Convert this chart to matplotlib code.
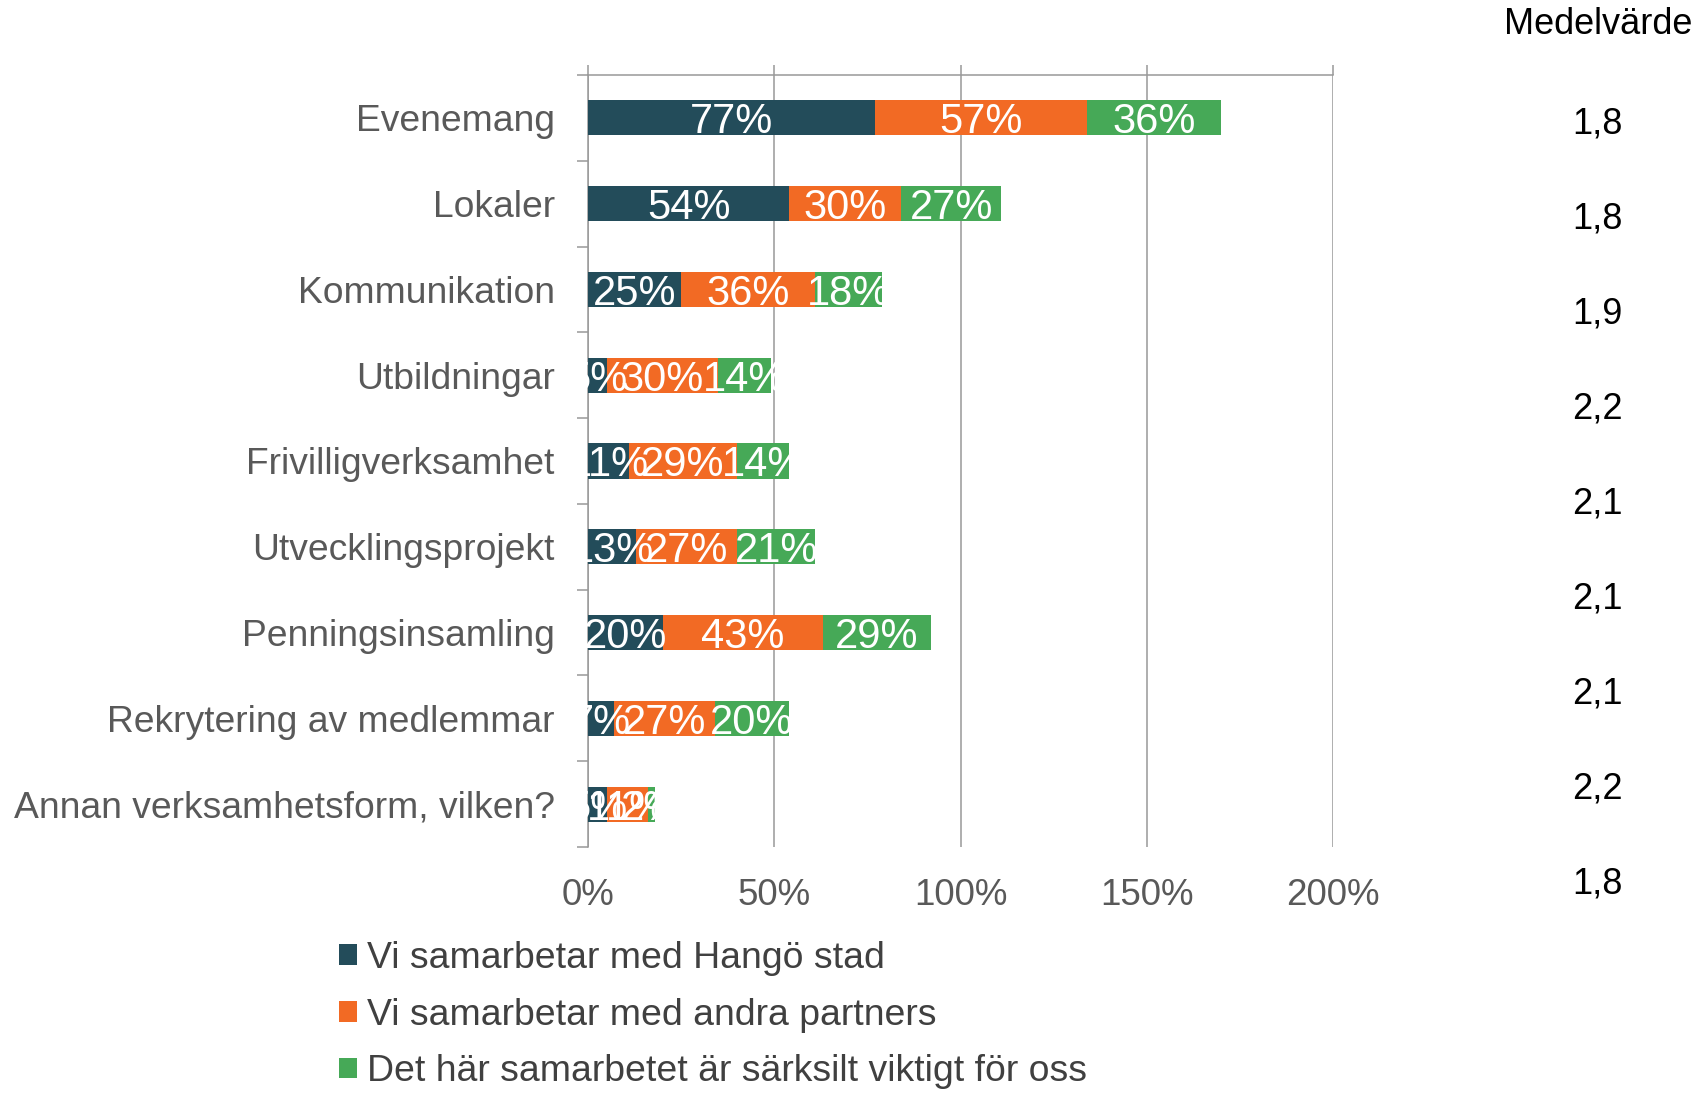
import matplotlib
matplotlib.use("Agg")
import matplotlib.pyplot as plt
import numpy as np
from matplotlib.patches import Patch
from matplotlib.ticker import FixedLocator, PercentFormatter

plt.rcParams['font.family'] = ['Liberation Sans', 'DejaVu Sans']

categories = ["Evenemang", "Lokaler", "Kommunikation", "Utbildningar",
              "Frivilligverksamhet", "Utvecklingsprojekt", "Penningsinsamling",
              "Rekrytering av medlemmar", "Annan verksamhetsform, vilken?"]
hango = [77, 54, 25, 5, 11, 13, 20, 7, 5]
andra = [57, 30, 36, 30, 29, 27, 43, 27, 11]
viktigt = [36, 27, 18, 14, 14, 21, 29, 20, 2]
series_names = ["Vi samarbetar med Hangö stad",
                "Vi samarbetar med andra partners",
                "Det här samarbetet är särksilt viktigt för oss"]
colors = ["#234C5A", "#F26A24", "#46A957"]
medel_header = "Medelvärde"
medelvarde = ["1,8", "1,8", "1,9", "2,2", "2,1", "2,1", "2,1", "2,2", "1,8"]
xticks = [0, 50, 100, 150, 200]

W, H = 1703, 1093
fig = plt.figure(figsize=(W / 100, H / 100), dpi=100)
ax = fig.add_axes([588 / W, 1 - 847 / H, (1333 - 588) / W, (847 - 75) / H])

y = np.arange(len(categories))
left = np.zeros(len(categories))
for vals, col in zip([hango, andra, viktigt], colors):
    vals = np.array(vals, dtype=float)
    bars = ax.barh(y, vals, left=left, height=0.41, color=col, linewidth=0, zorder=3)
    for b, v in zip(bars, vals):
        ax.text(b.get_x() + b.get_width() / 2, b.get_y() + b.get_height() / 2,
                f"{int(v)}%", ha="center", va="center_baseline", color="white",
                fontsize=30, zorder=4)
    left += vals

grid_col = "#999999"
ax.set_xlim(0, 200)
ax.set_ylim(len(categories) - 0.5, -0.5)
ax.xaxis.set_major_locator(FixedLocator(xticks))
ax.xaxis.set_major_formatter(PercentFormatter(decimals=0))
ax.grid(axis="x", color=grid_col, linewidth=1.1, zorder=0)
ax.set_axisbelow(True)

for s in ["right", "bottom"]:
    ax.spines[s].set_visible(False)
for s in ["left", "top"]:
    ax.spines[s].set_color(grid_col)
    ax.spines[s].set_linewidth(1.1)

ax.tick_params(axis="x", which="major", top=True, bottom=False, labeltop=False,
               labelbottom=True, direction="out", length=7.5, width=1.1,
               color=grid_col, labelsize=26.5, labelcolor="#595959", pad=14.5)
ax.set_yticks(y)
ax.set_yticklabels(categories)
ax.yaxis.set_minor_locator(FixedLocator(np.arange(-0.5, len(categories), 1.0)))
ax.tick_params(axis="y", which="major", length=0, labelsize=26.8,
               labelcolor="#595959", pad=24)
ax.tick_params(axis="y", which="minor", length=8, width=1.1, color=grid_col,
               direction="out")

# Medelvärde column
fig.text(1692 / W, 1 - 24 / H, medel_header, ha="right", va="center",
         fontsize=26, color="black")
ys = np.linspace(120.5, 879.6, len(medelvarde))
for yy, m in zip(ys, medelvarde):
    fig.text(1597 / W, 1 - yy / H, m, ha="center", va="center_baseline",
             fontsize=26, color="black")

handles = [Patch(facecolor=c, edgecolor="none") for c in colors]
fig.legend(handles, series_names, loc="upper left",
           bbox_to_anchor=(339 / W, 1 - 941 / H), frameon=False,
           fontsize=26.9, handlelength=0.47, handleheight=0.47,
           handletextpad=0.27, labelspacing=0.58, borderpad=0,
           borderaxespad=0, labelcolor="#404040")

fig.savefig("out.png", dpi=100)
